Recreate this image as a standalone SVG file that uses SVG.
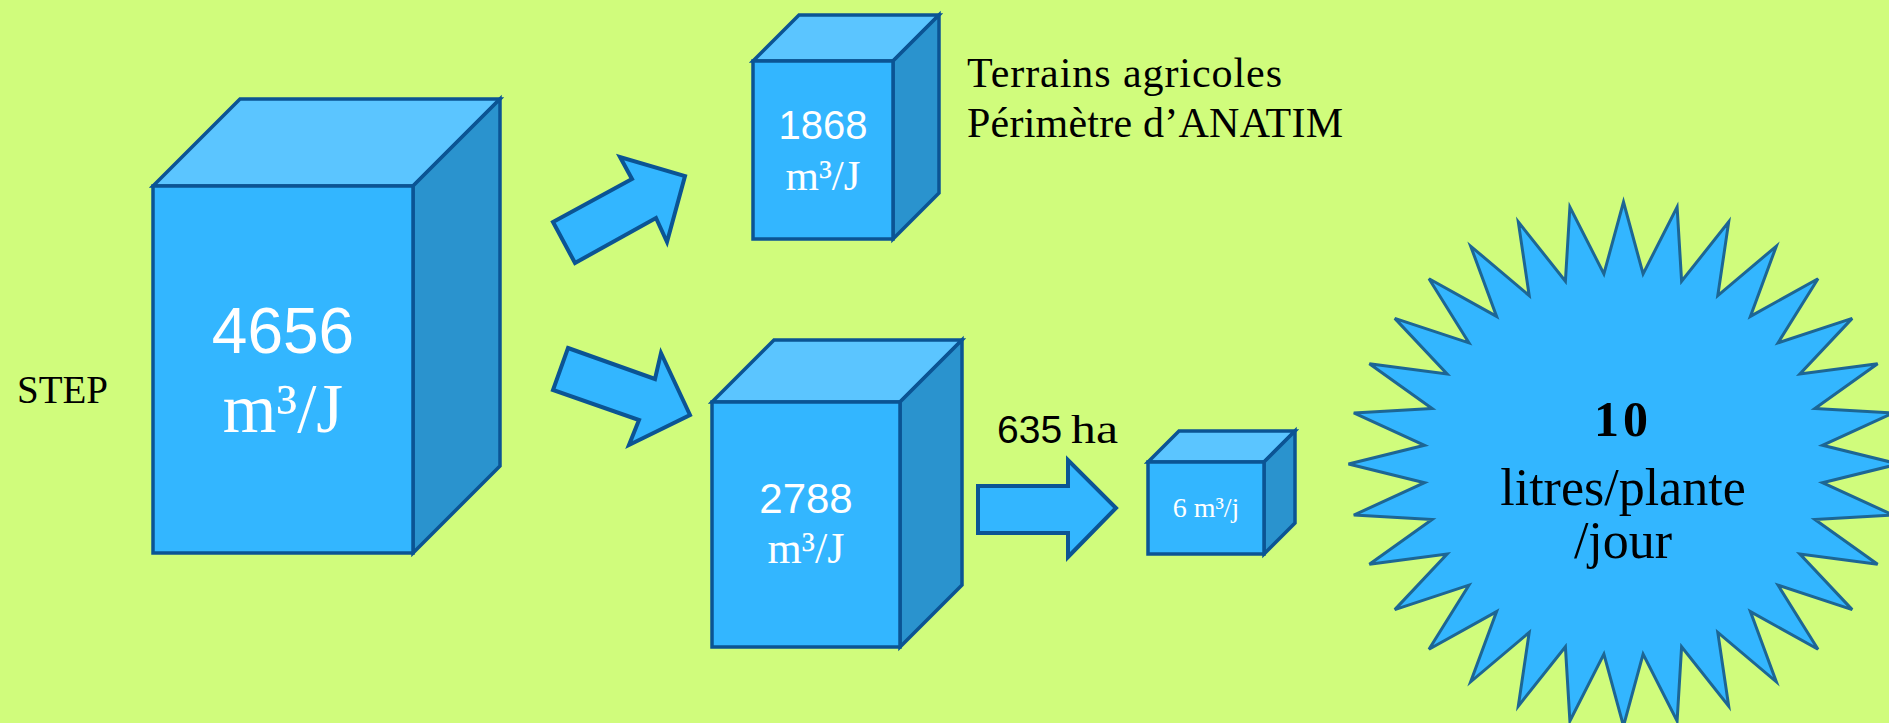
<svg xmlns="http://www.w3.org/2000/svg" width="1889" height="723" viewBox="0 0 1889 723">
<style>
.front{fill:#33B6FF;stroke:#0B5494;stroke-width:3.5;stroke-linejoin:miter}
.top{fill:#5BC5FF;stroke:#0B5494;stroke-width:3.5}
.side{fill:#2A93CE;stroke:#0B5494;stroke-width:3.5}
.arrow{fill:#33B6FF;stroke:#0B5494;stroke-width:4}
.star{fill:#33B6FF;stroke:#1D6694;stroke-width:3}
.wsans{fill:#FFFFFF;font-family:"Liberation Sans",Arial,sans-serif;text-anchor:middle}
.wserif{fill:#FFFFFF;font-family:"Liberation Serif","Times New Roman",serif;text-anchor:middle}
.bserif{fill:#000000;font-family:"Liberation Serif","Times New Roman",serif}
</style>
<rect x="0" y="0" width="1889" height="723" fill="#D0FC7C"/>

<g id="step-label">
<text class="bserif" x="17" y="403" font-size="39">STEP</text>
</g>

<g id="cube-4656">
<polygon class="top" points="153,186 240,99 500,99 413,186"/>
<polygon class="side" points="413,186 500,99 500,466 413,553"/>
<rect class="front" x="153" y="186" width="260" height="367"/>
<text class="wsans" x="283" y="353" font-size="64">4656</text>
<text class="wserif" x="283" y="432" font-size="69">m³/J</text>
</g>

<g id="cube-1868">
<polygon class="top" points="753,61 799,15 939,15 893,61"/>
<polygon class="side" points="893,61 939,15 939,193 893,239"/>
<rect class="front" x="753" y="61" width="140" height="178"/>
<text class="wsans" x="823" y="139" font-size="40">1868</text>
<text class="wserif" x="823" y="190" font-size="43">m³/J</text>
</g>

<g id="label-terrains">
<text class="bserif" x="967" y="87" font-size="42" textLength="315" lengthAdjust="spacing">Terrains agricoles</text>
<text class="bserif" x="967" y="137" font-size="42" textLength="376" lengthAdjust="spacing">Périmètre d’ANATIM</text>
</g>

<g id="cube-2788">
<polygon class="top" points="712,402 774,340 962,340 900,402"/>
<polygon class="side" points="900,402 962,340 962,585 900,647"/>
<rect class="front" x="712" y="402" width="188" height="245"/>
<text class="wsans" x="806" y="513" font-size="42">2788</text>
<text class="wserif" x="806" y="563" font-size="44">m³/J</text>
</g>

<g id="label-635ha">
<text x="997" y="443" font-size="39" font-family="Liberation Sans, Arial, sans-serif" fill="#000000">635<tspan x="1071" font-family="Liberation Serif, Times New Roman, serif" font-size="41" textLength="47" lengthAdjust="spacingAndGlyphs">ha</tspan></text>
</g>

<g id="cube-6">
<polygon class="top" points="1148,462 1179,431 1295,431 1264,462"/>
<polygon class="side" points="1264,462 1295,431 1295,523 1264,554"/>
<rect class="front" x="1148" y="462" width="116" height="92"/>
<text class="wserif" x="1206" y="517" font-size="28">6 m³/j</text>
</g>

<g id="star-10">
<polygon class="star" transform="translate(1623.5,464)" points="0,-262 19.6,-190.1 53.6,-257 58.1,-182.8 105.2,-242.1 94.3,-168.4 152.8,-217.8 126.9,-147.6 194.5,-185.3 154.6,-121.2 228.7,-145.6 176.4,-90 254.1,-100.3 191.4,-55.4 269.7,-51.1 199,-18.7 275,0 199,18.7 269.7,51.1 191.4,55.4 254.1,100.3 176.4,90 228.7,145.6 154.6,121.2 194.5,185.3 126.9,147.6 152.8,217.8 94.3,168.4 105.2,242.1 58.1,182.8 53.6,257 19.6,190.1 0,262 -19.6,190.1 -53.6,257 -58.1,182.8 -105.2,242.1 -94.3,168.4 -152.8,217.8 -126.9,147.6 -194.5,185.3 -154.6,121.2 -228.7,145.6 -176.4,90 -254.1,100.3 -191.4,55.4 -269.7,51.1 -199,18.7 -275,0 -199,-18.7 -269.7,-51.1 -191.4,-55.4 -254.1,-100.3 -176.4,-90 -228.7,-145.6 -154.6,-121.2 -194.5,-185.3 -126.9,-147.6 -152.8,-217.8 -94.3,-168.4 -105.2,-242.1 -58.1,-182.8 -53.6,-257 -19.6,-190.1"/>
<text class="bserif" x="1623" y="436" font-size="50" font-weight="bold" text-anchor="middle" letter-spacing="4">10</text>
<text class="bserif" x="1623" y="505" font-size="52" text-anchor="middle">litres/plante</text>
<text class="bserif" x="1623" y="558" font-size="52" text-anchor="middle">/jour</text>
</g>

<g id="connectors">
<polygon class="arrow" points="553,222 632,179 620,157 685,176 667,242 656,218 575,263"/>
<polygon class="arrow" points="568,348 655,379 661,353 690,415 629,445 639,420 553,390"/>
<polygon class="arrow" points="978,486 1068,486 1068,460 1116,508 1068,557 1068,533 978,533"/>
</g>
</svg>
